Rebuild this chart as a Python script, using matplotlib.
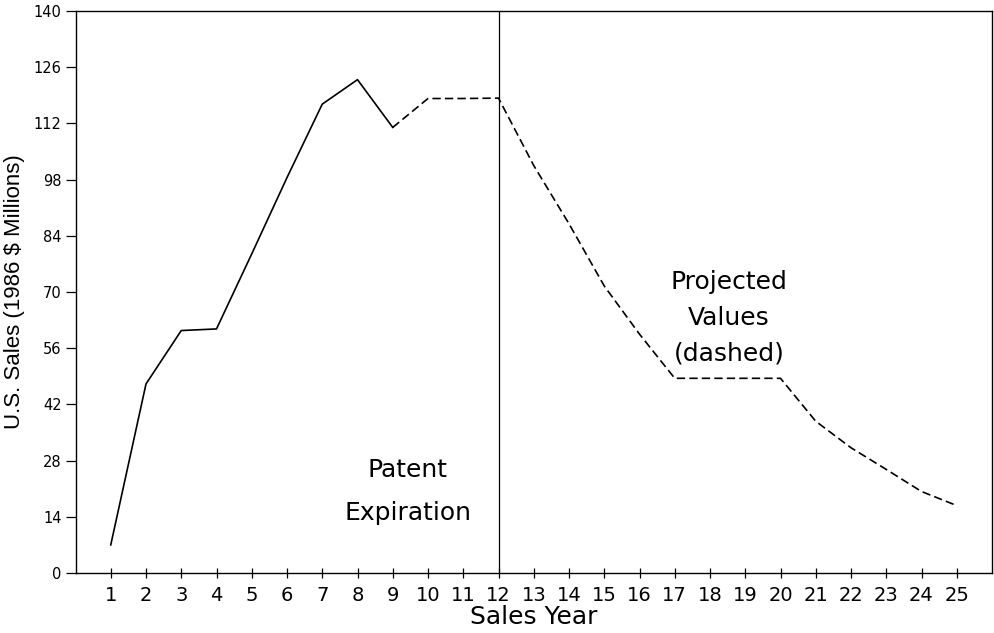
import numpy as np
import matplotlib
matplotlib.use('Agg')
import matplotlib.pyplot as plt

matplotlib.rcParams.update({'font.family': 'DejaVu Sans'})

# sales by year (1986 $ millions)
years_actual = [1, 2, 3, 4, 5, 6, 7, 8, 9]
sales_actual = [7.0, 47.1, 60.4, 60.8, 79.5, 98.5, 116.8, 122.9, 111.0]

years_proj = [9, 10, 11, 12, 13, 14, 15, 16, 17, 18, 19, 20, 21, 22, 23, 24, 25]
sales_proj = [111.0, 118.2, 118.2, 118.3, 101.5, 87.0, 71.5, 59.5, 48.5, 48.5,
              48.5, 48.5, 37.8, 31.2, 25.8, 20.3, 16.8]

patent_year = 12
x_ticks = list(range(1, 26))
y_ticks = list(range(0, 141, 14))

fig = plt.figure(figsize=(9.94, 6.33), dpi=100)
ax = fig.add_axes([75.5 / 994, 60 / 633, (992 - 75.5) / 994, (573 - 11) / 633])

ax.plot(years_actual, sales_actual, color='black', lw=1.2)
ax.plot(years_proj, sales_proj, color='black', lw=1.2, dashes=(5, 2.5))
ax.plot([patent_year, patent_year], [0, 140], color='black', lw=0.9)

ax.set_xlim(0, 26)
ax.set_ylim(0, 140)
ax.set_xticks(x_ticks)
ax.set_yticks(y_ticks)
ax.tick_params(axis='x', direction='inout', length=7, width=0.9, labelsize=14, pad=6)
ax.tick_params(axis='y', direction='out', length=7, width=0.9, labelsize=10.5, pad=3)
for s in ax.spines.values():
    s.set_linewidth(1.0)

ax.set_xlabel('Sales Year', fontsize=18, labelpad=0)
ax.set_ylabel('U.S. Sales (1986 $ Millions)', fontsize=16,
              family='Liberation Sans', labelpad=6)

ax.text(9.42, 20.4, 'Patent\nExpiration', ha='center', va='center',
        fontsize=18, linespacing=2.0)
ax.text(18.54, 63.6, 'Projected\nValues\n(dashed)', ha='center', va='center',
        fontsize=18, linespacing=1.6)

plt.savefig('out.png', dpi=100)
